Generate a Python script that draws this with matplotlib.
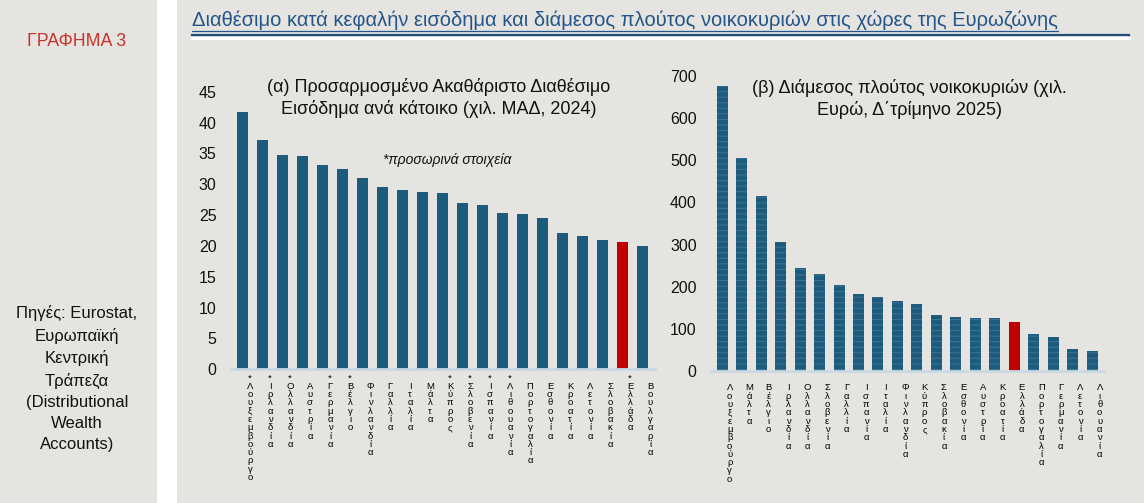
import matplotlib
matplotlib.use("Agg")
import matplotlib.pyplot as plt
from matplotlib.lines import Line2D
from matplotlib.patches import Rectangle
import matplotlib.transforms as mtransforms

plt.rcParams['font.family'] = ['Liberation Sans', 'DejaVu Sans']

# ---------------- data ----------------
income_countries = ["Λουξεμβούργο", "Ιρλανδία", "Ολλανδία", "Αυστρία", "Γερμανία", "Βέλγιο",
                    "Φινλανδία", "Γαλλία", "Ιταλία", "Μάλτα", "Κύπρος", "Σλοβενία", "Ισπανία",
                    "Λιθουανία", "Πορτογαλία", "Εσθονία", "Κροατία", "Λετονία", "Σλοβακία",
                    "Ελλάδα", "Βουλγαρία"]
income_provisional = [True, True, True, False, True, True, False, False, False, False, True,
                      True, True, True, False, False, False, False, False, True, False]
income_values = [41.7, 37.1, 34.8, 34.5, 33.1, 32.4, 31.0, 29.6, 29.0, 28.8, 28.6, 27.0, 26.7,
                 25.35, 25.2, 24.5, 22.1, 21.6, 21.0, 20.6, 19.95]

wealth_countries = ["Λουξεμβούργο", "Μάλτα", "Βέλγιο", "Ιρλανδία", "Ολλανδία", "Σλοβενία",
                    "Γαλλία", "Ισπανία", "Ιταλία", "Φινλανδία", "Κύπρος", "Σλοβακία", "Εσθονία",
                    "Αυστρία", "Κροατία", "Ελλάδα", "Πορτογαλία", "Γερμανία", "Λετονία",
                    "Λιθουανία"]
wealth_values = [677, 506, 416, 306, 244, 230, 204, 183, 176, 166, 159, 133, 128, 125, 125,
                 115.5, 87, 80, 52, 47]

highlight = "Ελλάδα"

title_main = ("Διαθέσιμο κατά κεφαλήν εισόδημα και διάμεσος πλούτος νοικοκυριών "
              "στις χώρες της Ευρωζώνης")
title_a = "(α) Προσαρμοσμένο Ακαθάριστο Διαθέσιμο\nΕισόδημα ανά κάτοικο (χιλ. ΜΑΔ, 2024)"
title_b = "(β) Διάμεσος πλούτος νοικοκυριών (χιλ.\nΕυρώ, Δ΄τρίμηνο 2025)"
note_a = "*προσωρινά στοιχεία"
chart_label = "ΓΡΑΦΗΜΑ 3"
sources = "Πηγές: Eurostat,\nΕυρωπαϊκή\nΚεντρική\nΤράπεζα\n(Distributional\nWealth\nAccounts)"

# ---------------- style ----------------
BG = "#E5E4E0"
BLUE = "#1D5B7C"
RED = "#C00000"
NAVY = "#1F4E79"
W, H = 1144, 503

fig = plt.figure(figsize=(W / 100, H / 100), dpi=100)
fig.patch.set_facecolor(BG)

def fx(x):
    return x / W

def fy(y):
    return 1 - y / H

# white gutter between side panel and main panel
fig.add_artist(Rectangle((fx(157), 0), fx(20), 1, transform=fig.transFigure,
                         facecolor="white", edgecolor="none", zorder=0))

# side panel texts
fig.text(fx(77), fy(41), chart_label, color="#C8342C", fontsize=12.8, ha="center", va="center")
fig.text(fx(77), fy(378.5), sources, color="#111111", fontsize=12, ha="center", va="center",
         linespacing=1.5)

# main title with underline and rule
t = fig.text(fx(192), fy(20), title_main, color="#24558A", fontsize=14.5, ha="left",
             va="center")
fig.canvas.draw()
bb = t.get_window_extent()
fig.add_artist(Line2D([fx(192), bb.x1 / W], [fy(30.5), fy(30.5)], transform=fig.transFigure,
                      color="#24558A", lw=0.9))
fig.add_artist(Line2D([fx(192), fx(1129)], [fy(35), fy(35)], transform=fig.transFigure,
                      color=NAVY, lw=1.6))
fig.add_artist(Line2D([fx(192), fx(1129)], [fy(37.8), fy(37.8)], transform=fig.transFigure,
                      color="white", lw=2.2))


def stacked(name, prov):
    head = "*" if prov else " "
    return "\n".join([head] + list(name))


def style_axes(ax):
    ax.set_facecolor("none")
    for s in ["top", "right", "left"]:
        ax.spines[s].set_visible(False)
    ax.spines["bottom"].set_color("#C8D9E3")
    ax.spines["bottom"].set_linewidth(2)
    ax.tick_params(axis="both", length=0)
    ax.tick_params(axis="y", labelsize=11.5, labelcolor="#111111", pad=10)
    ax.tick_params(axis="x", labelsize=6.8, labelcolor="#000000", pad=3)
    offset = mtransforms.ScaledTranslation(7.5 / 100, 0, fig.dpi_scale_trans)
    for lab in ax.get_xticklabels():
        lab.set_transform(lab.get_transform() + offset)
        lab.set_linespacing(0.9)
        lab.set_verticalalignment("top")


# ---------------- chart (α) ----------------
ax1 = fig.add_axes([fx(230.5), 1 - 369.3 / H, fx(424), 277.6 / H])
x1 = list(range(len(income_values)))
colors1 = [RED if c == highlight else BLUE for c in income_countries]
ax1.bar(x1, income_values, width=0.55, color=colors1, zorder=2)
ax1.set_xlim(-0.6, len(x1) - 0.4)
ax1.set_ylim(0, 45)
ax1.set_yticks(range(0, 46, 5))
ax1.set_xticks(x1, [stacked(c, p) for c, p in zip(income_countries, income_provisional)])
style_axes(ax1)
ax1.text(0.49, 1.05, title_a, transform=ax1.transAxes, ha="center", va="top",
         fontsize=13, color="#111111", linespacing=1.3)
ax1.text(0.51, 0.755, note_a, transform=ax1.transAxes, ha="center", va="center",
         fontsize=10, style="italic", color="#111111")

# ---------------- chart (β) ----------------
ax2 = fig.add_axes([fx(710.5), 1 - 371 / H, fx(393.4), 295 / H])
x2 = list(range(len(wealth_values)))
plt.rcParams['hatch.linewidth'] = 0.7
for xi, v, c in zip(x2, wealth_values, wealth_countries):
    if c == highlight:
        ax2.bar(xi, v, width=0.565, color=RED, zorder=2)
    else:
        ax2.bar(xi, v, width=0.565, color=BLUE, edgecolor="#3F7394", linewidth=0,
                hatch="---", zorder=2)
ax2.set_xlim(-0.6, len(x2) - 0.4)
ax2.set_ylim(0, 700)
ax2.set_yticks(range(0, 701, 100))
ax2.set_xticks(x2, [stacked(c, False) for c in wealth_countries])
style_axes(ax2)
ax2.text(0.505, 0.99, title_b, transform=ax2.transAxes, ha="center", va="top",
         fontsize=13, color="#111111", linespacing=1.3)

fig.savefig("out.png", dpi=100, facecolor=BG)
